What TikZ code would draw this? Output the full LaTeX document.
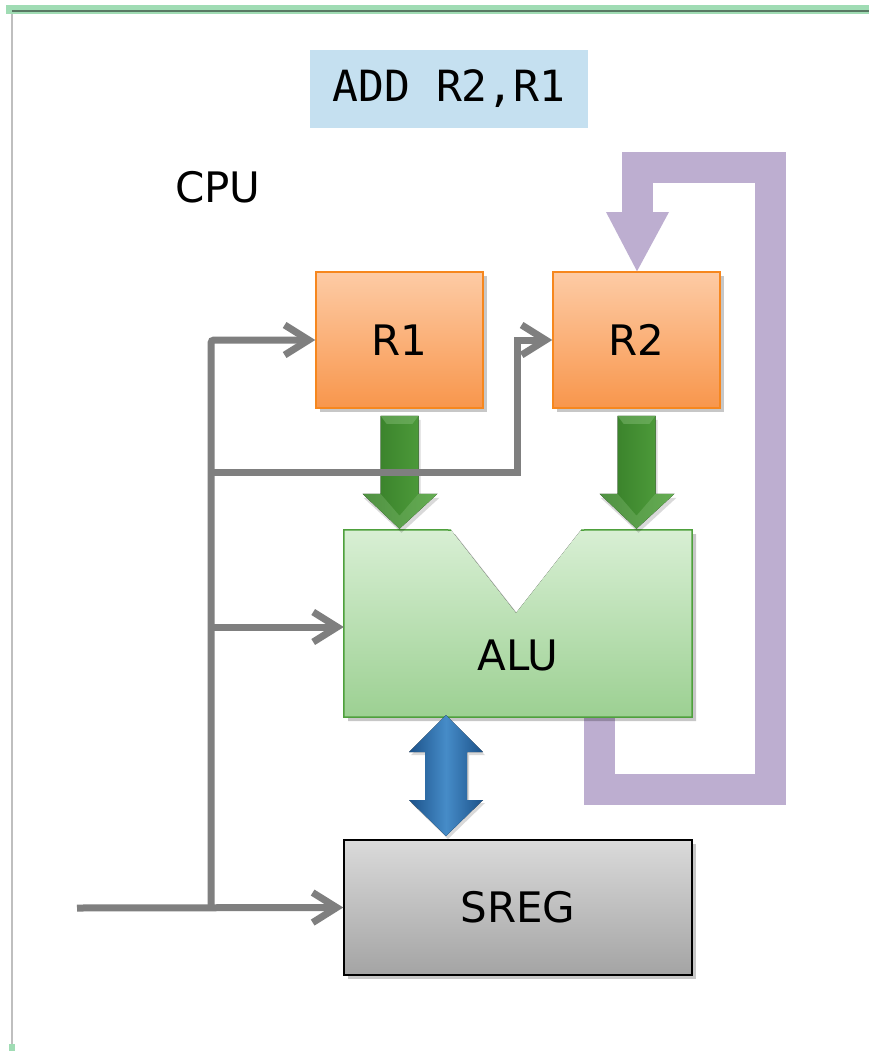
\documentclass[tikz,border=0pt]{standalone}
\usepackage{fontspec}
\setsansfont{DejaVu Sans}
\setmonofont{DejaVu Sans Mono}
\usetikzlibrary{arrows.meta,shadows}
\definecolor{busgray}{RGB}{127,127,127}
\definecolor{addblue}{RGB}{197,224,240}
\definecolor{regtop}{RGB}{253,203,165}
\definecolor{regbot}{RGB}{248,150,76}
\definecolor{regline}{RGB}{246,135,30}
\definecolor{alutop}{RGB}{216,239,212}
\definecolor{alubot}{RGB}{156,208,146}
\definecolor{aluline}{RGB}{78,160,60}
\definecolor{sregtop}{RGB}{218,218,218}
\definecolor{sregbot}{RGB}{164,164,164}
\definecolor{loopcol}{RGB}{189,174,208}
\definecolor{gdark}{RGB}{52,122,38}
\definecolor{glight}{RGB}{84,164,64}
\definecolor{bdark}{RGB}{28,82,138}
\definecolor{blight}{RGB}{70,140,200}
\definecolor{frameg}{RGB}{160,220,180}
\tikzset{
  lbl/.style={font=\sffamily\fontsize{42}{50}\selectfont, text=black},
  boxshadow/.style={drop shadow={shadow xshift=4pt,shadow yshift=-4pt,opacity=.22,fill=black}},
  regbox/.style={draw=regline, line width=1.5pt, top color=regtop, bottom color=regbot,
     minimum width=167pt, minimum height=136pt, boxshadow, lbl},
  sregbox/.style={draw=black, line width=1.5pt, top color=sregtop, bottom color=sregbot,
     minimum width=348pt, minimum height=135pt, boxshadow, lbl},
  bus/.style={draw=busgray, line width=7pt},
  busarrow/.style={bus, -{Straight Barb[length=24pt,width=30pt]}},
  loop/.style={draw=loopcol, line width=31pt, line join=miter},
  garrow/.pic={
    \fill[black, opacity=.15] (-17,4) -- (21,4) -- (21,82) -- (40,82) -- (2,117) -- (-36,82) -- (-17,82) -- cycle;
    \fill[left color=gdark, right color=glight] (-19,0) -- (19,0) -- (19,78) -- (38,78) -- (0,113) -- (-37,78) -- (-19,78) -- cycle;
    \fill[glight!70!white, opacity=.45] (-19,0) -- (19,0) -- (13,8) -- (-13,8) -- cycle;
    \fill[glight!70!white, opacity=.35] (-37,78) -- (-19,78) -- (0,100) -- (19,78) -- (38,78) -- (0,113) -- cycle;
  },
  barrow/.pic={
    \fill[black, opacity=.15] (2,3) -- (39,40) -- (23,40) -- (23,88) -- (39,88) -- (2,124) -- (-35,88) -- (-19,88) -- (-19,40) -- (-35,40) -- cycle;
    \fill[left color=bdark, right color=bdark, middle color=blight] (0,0) -- (37,37) -- (21,37) -- (21,85) -- (37,85) -- (0,121) -- (-37,85) -- (-21,85) -- (-21,37) -- (-37,37) -- cycle;
  }
}
\begin{document}
\begin{tikzpicture}[x=1pt,y=-1pt]
\useasboundingbox[fill=white] (0,0) rectangle (869,1051);
% frame
\draw[black!25, line width=2pt] (12,12) -- (12,1045);
\draw[frameg, line width=9pt] (6,10) -- (869,10);
\draw[black!45!frameg, line width=1.5pt] (12,11) -- (869,11);
\fill[frameg] (9,1044) rectangle (15,1051);

% instruction
\node[fill=addblue, minimum width=278pt, minimum height=78pt, inner sep=0pt,
      font=\ttfamily\fontsize{43}{50}\selectfont] (instr) at (449,89) {ADD R2,R1};
\node[lbl, anchor=center] (cpu) at (218,187) {CPU};

% feedback loop (behind boxes)
\coordinate (loopS) at (599,712);
\coordinate (loopE) at (637,212);
\draw[loop] (loopS) -- (599,789) -- (770,789) -- (770,168) -- (637,168) -- (loopE);

% registers
\node[regbox] (R1) at (399.5,340) {R1};
\node[regbox] (R2) at (636.5,340) {R2};
\fill[loopcol] (606,212) -- (669,212) -- (R2.north -| loopE) -- cycle;

% ALU
\node[minimum width=348pt, minimum height=187pt, inner sep=0pt] (alubox) at (518,623.5) {};
\fill[black, opacity=.22] (348,534) -- (455,534) -- (520,617) -- (585,534) -- (696,534) -- (696,721) -- (348,721) -- cycle;
\fill[top color=alutop, bottom color=alubot] (alubox.north west) -- (451,530) -- (516,613) -- (581,530) -- (alubox.north east) -- (alubox.south east) -- (alubox.south west) -- cycle;
\draw[aluline, line width=1.5pt] (451,530) -- (alubox.north west) -- (alubox.south west) -- (alubox.south east) -- (alubox.north east) -- (581,530);
\node[lbl] (alu) at (518,655) {ALU};

% SREG
\node[sregbox] (sreg) at (518,907.5) {SREG};

% green arrows R -> ALU
\pic at ([yshift=-7pt]R1.south) {garrow};
\pic at ([yshift=-7pt]R2.south) {garrow};

% blue double arrow ALU <-> SREG
\pic at (446,715) {barrow};

% bus lines
\coordinate (inS) at (77,908);
\coordinate (jn) at (211,908);
\coordinate (bR1) at (211,340);
\coordinate (bR2) at (211,472);
\coordinate (kR2) at (517,472);
\coordinate (bA) at (211,627);
\draw[busarrow] (inS) -- (sreg.west);
\draw[busarrow, rounded corners=3pt] (jn) -- (bR1) -- (R1.west);
\draw[busarrow] (bR2) -- (kR2) -- (kR2 |- R2.west) -- (R2.west);
\draw[busarrow] (bA) -- (bA -| alubox.west);
\end{tikzpicture}
\end{document}
